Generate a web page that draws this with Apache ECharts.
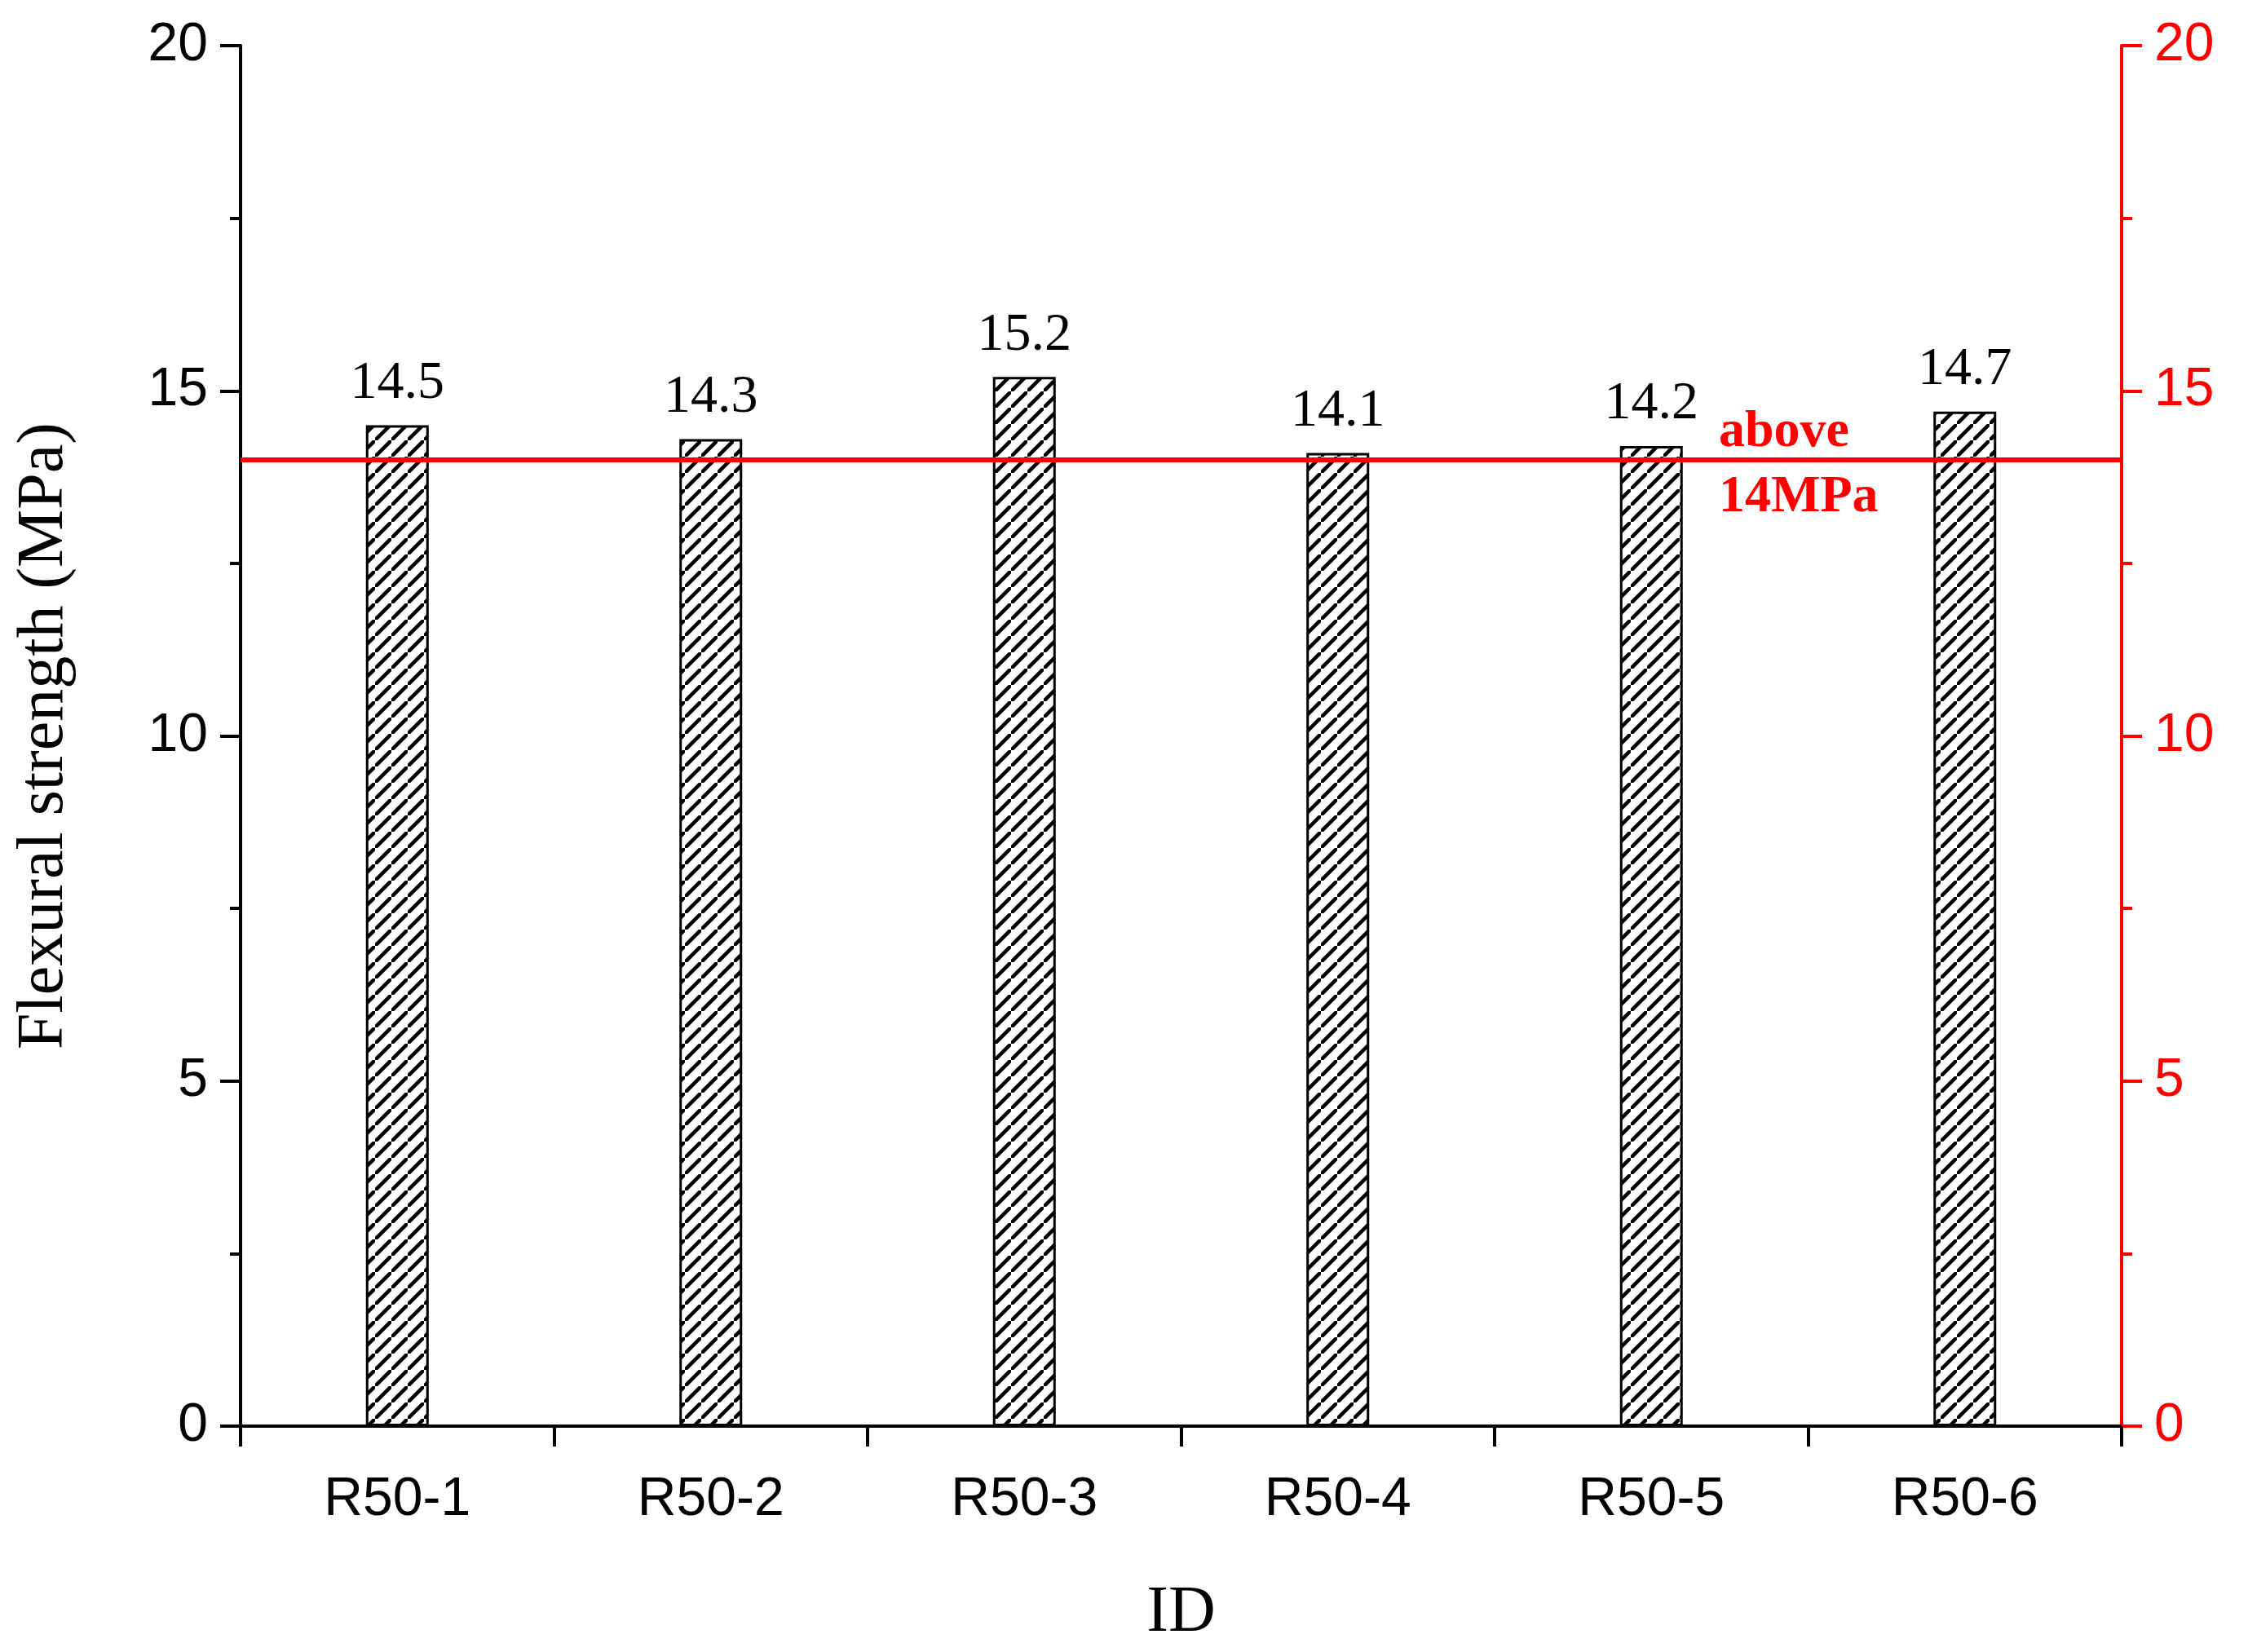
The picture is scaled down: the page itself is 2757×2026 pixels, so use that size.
<!DOCTYPE html>
<html>
<head>
<meta charset="utf-8">
<script src="https://cdn.jsdelivr.net/npm/echarts@6/dist/echarts.min.js"></script>
<style>html,body{margin:0;padding:0;background:#fff}#chart{width:2757px;height:2026px}</style>
</head>
<body>
<div id="chart"></div>
<script>
var categories = ['R50-1', 'R50-2', 'R50-3', 'R50-4', 'R50-5', 'R50-6'];
var strengths = [14.5, 14.3, 15.2, 14.1, 14.2, 14.7];
var threshold = 14;
var yTicks = [0, 5, 10, 15, 20];

// hatch pattern for bars
var T = 20;
var pc = document.createElement('canvas');
pc.width = T; pc.height = T;
var ctx = pc.getContext('2d');
ctx.fillStyle = '#fff';
ctx.fillRect(0, 0, T, T);
ctx.strokeStyle = '#000';
ctx.lineWidth = 4.5;
ctx.beginPath();
ctx.moveTo(-5, T + 5); ctx.lineTo(T + 5, -5);
ctx.moveTo(-T - 5, 5); ctx.lineTo(5, -T - 5);
ctx.moveTo(T - 5, 2 * T + 5); ctx.lineTo(2 * T + 5, T - 5);
ctx.stroke();

var chart = echarts.init(document.getElementById('chart'));
var serif = 'Liberation Serif';
var sans = 'Liberation Sans';

var option = {
  animation: false,
  grid: { left: 295, right: 155, top: 56, bottom: 277 },
  xAxis: [{
    type: 'category',
    data: categories,
    name: 'ID',
    nameLocation: 'middle',
    nameGap: 190,
    nameTextStyle: { fontFamily: serif, fontSize: 80, color: '#000' },
    axisLine: { lineStyle: { color: '#000', width: 4 } },
    axisTick: { show: true, length: 25, lineStyle: { width: 4, color: '#000' } },
    axisLabel: { fontFamily: sans, fontSize: 66, color: '#000', margin: 58 }
  }, {
    type: 'category',
    data: categories,
    position: 'top',
    axisLine: { lineStyle: { color: '#000', width: 4 } },
    axisTick: { show: false },
    axisLabel: { show: false }
  }],
  yAxis: [{
    type: 'value',
    min: yTicks[0], max: yTicks[yTicks.length - 1], interval: 5,
    name: 'Flexural strength (MPa)',
    nameLocation: 'middle',
    nameGap: 200,
    nameTextStyle: { fontFamily: serif, fontSize: 80, color: '#000' },
    axisLine: { show: true, lineStyle: { color: '#000', width: 4 } },
    axisTick: { show: true, length: 25, lineStyle: { width: 4 } },
    minorTick: { show: true, splitNumber: 2, length: 13, lineStyle: { width: 4, color: '#000' } },
    splitLine: { show: false },
    axisLabel: { fontFamily: sans, fontSize: 66, color: '#000', margin: 40 }
  }, {
    type: 'value',
    position: 'right',
    min: yTicks[0], max: yTicks[yTicks.length - 1], interval: 5,
    axisLine: { show: true, lineStyle: { color: '#ff0000', width: 4 } },
    axisTick: { show: true, length: 25, lineStyle: { width: 4, color: '#ff0000' } },
    minorTick: { show: true, splitNumber: 2, length: 13, lineStyle: { width: 4, color: '#ff0000' } },
    splitLine: { show: false },
    axisLabel: { fontFamily: sans, fontSize: 66, color: '#ff0000', margin: 40 }
  }],
  series: [{
    type: 'bar',
    data: strengths,
    barWidth: 77,
    itemStyle: {
      color: { image: pc, repeat: 'repeat' },
      borderColor: '#000',
      borderWidth: 3
    },
    label: {
      show: true, position: 'top', distance: 18,
      fontFamily: serif, fontSize: 66, color: '#000'
    },
    markLine: {
      symbol: 'none',
      silent: true,
      label: { show: false },
      lineStyle: { color: '#ff0000', width: 6, type: 'solid' },
      data: [{ yAxis: threshold }]
    }
  }],
  graphic: [{
    type: 'text',
    left: 2108, top: 490,
    style: {
      text: 'above\n14MPa',
      font: 'bold 64px "Liberation Serif"',
      fill: '#ff0000',
      align: 'center',
      lineHeight: 80
    }
  }]
};
chart.setOption(option);
</script>
</body>
</html>
